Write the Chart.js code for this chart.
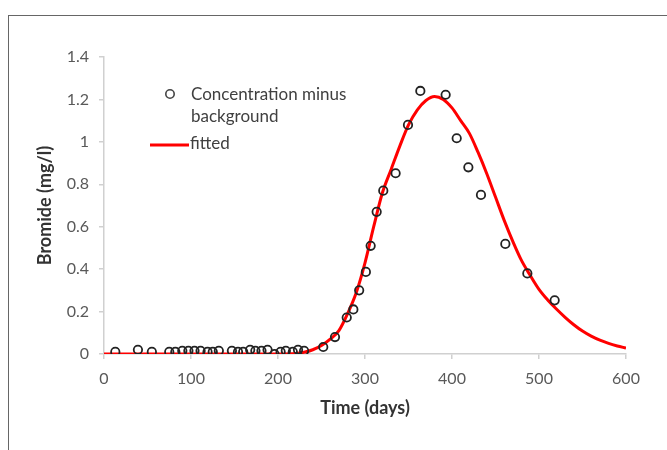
<!DOCTYPE html>
<html>
<head>
<meta charset="utf-8">
<script src="https://cdn.jsdelivr.net/npm/chart.js"></script>
<style>
  html, body { margin: 0; padding: 0; background: #fff; }
  #wrap { position: relative; width: 667px; height: 450px; overflow: hidden; }
  #frame { position: absolute; left: 8px; top: 15px; width: 700px; height: 500px; border: 1px solid #666; }
  #chart { position: absolute; left: 0; top: 0; }
</style>
</head>
<body>
<div id="wrap">
  <div id="frame"></div>
  <canvas id="chart" width="667" height="450"></canvas>
</div>
<script>
// observed: concentration minus background
const obsDays = [13, 39, 55, 75, 82, 90, 97, 104, 111, 119, 125, 132, 147, 154, 160, 168, 174, 181, 188, 196, 203, 209, 217, 223, 230,
  252, 265.5, 279, 286.6, 293.3, 301, 306.5, 313.4, 321, 335.2, 349.4, 363.6, 392.7, 405.4, 418.8, 433.3, 461.3, 486.6, 518];
const obsConc = [0.01, 0.02, 0.01, 0.01, 0.01, 0.015, 0.015, 0.015, 0.015, 0.01, 0.01, 0.015, 0.015, 0.01, 0.01, 0.02, 0.015, 0.015, 0.02, 0.0, 0.01, 0.015, 0.01, 0.02, 0.015,
  0.033, 0.08, 0.172, 0.21, 0.30, 0.387, 0.51, 0.67, 0.77, 0.852, 1.08, 1.24, 1.222, 1.017, 0.88, 0.75, 0.519, 0.38, 0.253];

// fitted curve
const fitDays = [0, 50, 100, 150, 200, 220, 230, 240, 250, 260, 270, 280, 290, 300, 310, 320, 330, 340, 350, 360, 370, 380,
  390, 400, 410, 420, 430, 440, 450, 460, 470, 480, 490, 500, 510, 520, 530, 540, 550, 560, 570, 580, 590, 600];
const fitConc = [0, 0, 0, 0, 0, 0.002, 0.008, 0.02, 0.04, 0.07, 0.11, 0.19, 0.29, 0.43, 0.60, 0.76, 0.87, 0.98, 1.08, 1.15, 1.195, 1.214,
  1.20, 1.16, 1.10, 1.04, 0.95, 0.85, 0.74, 0.63, 0.53, 0.44, 0.37, 0.305, 0.255, 0.212, 0.173, 0.138, 0.108, 0.084, 0.065, 0.05, 0.038, 0.028];

const xTicks = [0, 100, 200, 300, 400, 500, 600];
const yTicks = [0, 0.2, 0.4, 0.6, 0.8, 1, 1.2, 1.4];
const yTickLabels = ['0', '0.2', '0.4', '0.6', '0.8', '1', '1.2', '1.4'];

const FONT = 'Lato, "Open Sans", sans-serif';

const legendPlugin = {
  id: 'insideLegend',
  afterDraw(chart) {
    const c = chart.ctx;
    c.save();
    c.strokeStyle = '#444';
    c.lineWidth = 1.6;
    c.beginPath();
    c.arc(170, 94, 4.2, 0, Math.PI * 2);
    c.stroke();
    c.strokeStyle = '#ff0000';
    c.lineWidth = 3;
    c.beginPath();
    c.moveTo(150, 145);
    c.lineTo(189, 145);
    c.stroke();
    c.fillStyle = '#404040';
    c.font = '17px ' + FONT;
    c.textBaseline = 'middle';
    c.fillText('Concentration minus', 191, 95);
    c.fillText('background', 191, 117);
    c.fillText('fitted', 190, 144);
    c.restore();
  }
};

new Chart(document.getElementById('chart'), {
  type: 'scatter',
  data: {
    datasets: [
      {
        label: 'Concentration minus background',
        data: obsDays.map((d, i) => ({ x: d, y: obsConc[i] })),
        pointRadius: 4.2,
        pointBorderWidth: 1.8,
        pointBorderColor: '#222',
        pointBackgroundColor: 'rgba(0,0,0,0)',
        order: 0
      },
      {
        label: 'fitted',
        data: fitDays.map((d, i) => ({ x: d, y: fitConc[i] })),
        showLine: true,
        borderColor: '#ff0000',
        borderWidth: 3,
        pointRadius: 0,
        cubicInterpolationMode: 'monotone',
        order: 1
      }
    ]
  },
  options: {
    responsive: false,
    animation: false,
    layout: { padding: { left: 0, top: 57, right: 41, bottom: 0 } },
    plugins: { legend: { display: false }, tooltip: { enabled: false } },
    scales: {
      x: {
        type: 'linear', min: 0, max: 600,
        afterBuildTicks: s => { s.ticks = xTicks.map(v => ({ value: v })); },
        afterFit: s => { s.height = 96; },
        grid: { drawOnChartArea: false, drawTicks: true, tickLength: 5, color: '#d0d0d0', lineWidth: 1.5 },
        border: { color: '#d0d0d0', width: 1.5 },
        ticks: { color: '#595959', font: { family: FONT, size: 16 }, padding: 10, maxRotation: 0 },
        title: { display: true, text: 'Time (days)', color: '#333', font: { family: FONT, size: 18, weight: 'bold' }, padding: { top: 0, bottom: 31 } }
      },
      y: {
        min: 0, max: 1.4,
        afterBuildTicks: s => { s.ticks = yTicks.map(v => ({ value: v })); },
        afterFit: s => { s.width = 104; },
        grid: { drawOnChartArea: false, drawTicks: true, tickLength: 5, color: '#d0d0d0', lineWidth: 1.5 },
        border: { color: '#d0d0d0', width: 1.5 },
        ticks: { color: '#595959', font: { family: FONT, size: 16 }, padding: 10,
          callback: (v) => yTickLabels[yTicks.indexOf(v)] },
        title: { display: true, text: 'Bromide (mg/l)', color: '#333', font: { family: FONT, size: 18, weight: 'bold' }, padding: { top: 34, bottom: 0 } }
      }
    }
  },
  plugins: [legendPlugin]
});
</script>
</body>
</html>
